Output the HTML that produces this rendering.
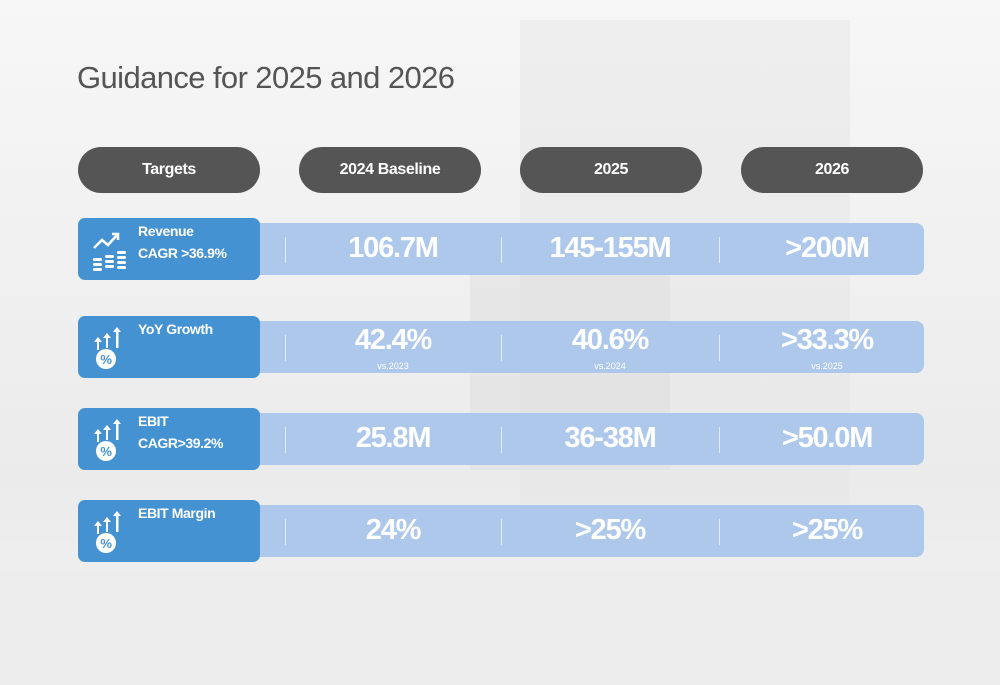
<!DOCTYPE html>
<html><head><meta charset="utf-8"><style>
body{margin:0;width:1000px;height:685px;overflow:hidden;font-family:"Liberation Sans",sans-serif;position:relative;
background:linear-gradient(180deg,#f7f7f7 0%,#efefef 45%,#ebebeb 70%,#f3f3f3 100%);}
.bg{position:absolute;}
.title{position:absolute;left:77px;top:60px;font-size:31px;color:#555;letter-spacing:-0.6px;}
.pill{position:absolute;top:147px;height:46px;width:182px;border-radius:23px;background:#555;color:#fff;font-weight:bold;font-size:16px;display:flex;align-items:center;justify-content:center;letter-spacing:-0.4px}
.bar{position:absolute;left:256px;width:668px;height:52px;background:#adc8ea;border-radius:0 8px 8px 0}
.box{position:absolute;left:78px;width:182px;height:62px;background:#4592d2;border-radius:7px;color:#fff;font-weight:bold;font-size:14px;letter-spacing:-0.4px}
.box .lab{position:absolute;left:60px;top:2px;line-height:22px}
.box svg{position:absolute;left:12px;top:10px}
.div{position:absolute;top:14px;width:1px;height:26px;background:#e4ecf7}
.val{position:absolute;top:9px;width:216px;text-align:center;color:#fff;font-weight:bold;font-size:29px;letter-spacing:-1.2px}
.sub{position:absolute;top:40px;width:216px;text-align:center;color:#fff;font-size:9px}
</style></head><body>
<div class="bg" style="left:520px;top:20px;width:330px;height:520px;background:#e6e6e6;opacity:.5"></div>
<div class="bg" style="left:470px;top:270px;width:200px;height:200px;background:#dedede;opacity:.5"></div>
<div class="bg" style="left:0;top:570px;width:1000px;height:115px;background:#ededed"></div>
<div class="title">Guidance for 2025 and 2026</div>
<div class="pill" style="left:78px">Targets</div>
<div class="pill" style="left:299px">2024 Baseline</div>
<div class="pill" style="left:520px">2025</div>
<div class="pill" style="left:741px">2026</div>
<div id="rows"></div>
<script>
const labels=[["Revenue","CAGR >36.9%"],["YoY Growth"],["EBIT","CAGR>39.2%"],["EBIT Margin"]];
const v2024=["106.7M","42.4%","25.8M","24%"];
const v2025=["145-155M","40.6%","36-38M",">25%"];
const v2026=[">200M",">33.3%",">50.0M",">25%"];
const subs=[null,["vs.2023","vs.2024","vs.2025"],null,null];
const tops=[218,316,408,500];
const root=document.getElementById('rows');
const coin='<svg width="40" height="44" viewBox="0 0 40 44"><polyline points="4,20 12,12 18,17 28,6" fill="none" stroke="#fff" stroke-width="2.5"/><polyline points="22,6 28,6 28,12" fill="none" stroke="#fff" stroke-width="2.5"/><g fill="#fff"><rect x="3" y="30" width="9" height="3" rx="1.5"/><rect x="3" y="35" width="9" height="3" rx="1.5"/><rect x="3" y="40" width="9" height="3" rx="1.5"/><rect x="15" y="27" width="9" height="3" rx="1.5"/><rect x="15" y="32" width="9" height="3" rx="1.5"/><rect x="15" y="37" width="9" height="3" rx="1.5"/><rect x="27" y="23" width="9" height="3" rx="1.5"/><rect x="27" y="28" width="9" height="3" rx="1.5"/><rect x="27" y="33" width="9" height="3" rx="1.5"/><rect x="27" y="38" width="9" height="3" rx="1.5"/></g></svg>';
const pct='<svg width="40" height="44" viewBox="0 0 40 44"><g fill="#fff"><polygon points="4,16 8,11 12,16"/><rect x="7" y="16" width="2" height="8"/><polygon points="13,12 17,7 21,12"/><rect x="16" y="12" width="2" height="10"/><polygon points="23,6 27,1 31,6"/><rect x="26" y="6" width="2.5" height="16"/><circle cx="16" cy="33" r="10"/></g><text x="16" y="38" font-size="13" font-weight="bold" fill="#4592d2" text-anchor="middle" font-family="Liberation Sans">%</text></svg>';
labels.forEach((lab,i)=>{
  const t=tops[i];
  const bar=document.createElement('div');bar.className='bar';bar.style.top=(t+5)+'px';
  
  
  [285,501,719].forEach(x=>{const d=document.createElement('div');d.className='div';d.style.left=(x-256)+'px';
    
    bar.appendChild(d);});
  [v2024[i],v2025[i],v2026[i]].forEach((v,j)=>{
    const left=(285+j*217)-256;
    const e=document.createElement('div');e.className='val';e.style.left=left+'px';e.textContent=v;
    if(subs[i])e.style.top='3px';
    
    bar.appendChild(e);
    if(subs[i]){const s=document.createElement('div');s.className='sub';s.style.left=left+'px';s.textContent=subs[i][j];
      
      bar.appendChild(s);}
  });
  root.appendChild(bar);
  const box=document.createElement('div');box.className='box';box.style.top=t+'px';
  
  
  box.innerHTML=(i==0?coin:pct)+'<div class="lab">'+lab.join('<br>')+'</div>';
  root.appendChild(box);
});
</script>
</body></html>
